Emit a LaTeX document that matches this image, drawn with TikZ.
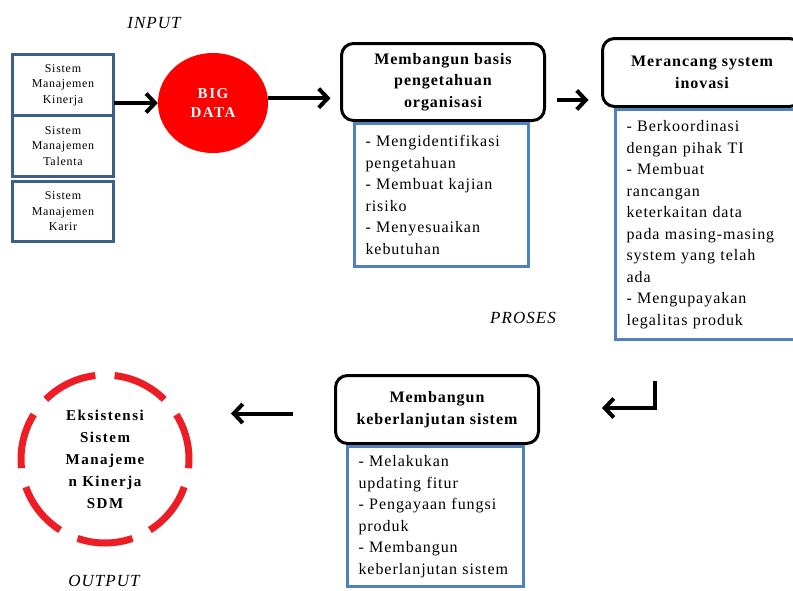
\documentclass[tikz,border=0pt]{standalone}
\usepackage{fontspec}
\setmainfont{Liberation Serif}[LetterSpace=6]
\newfontfamily\renggang{Liberation Serif}[LetterSpace=10]
\usepackage{tikz}
\usetikzlibrary{positioning}
\usetikzlibrary{arrows.meta,shapes.geometric}

\definecolor{inblue}{HTML}{3E5F8E}
\definecolor{boxblue}{HTML}{4F81BD}
\definecolor{bigred}{HTML}{FF0000}
\definecolor{dashred}{HTML}{EE1C24}

\tikzset{
  inbox/.style={draw=inblue, line width=3pt, outer sep=0pt, minimum width=101pt,
    minimum height=61pt, inner sep=1pt, align=center,
    font=\fontsize{12}{15.5}\selectfont},
  judul/.style={draw, line width=3pt, rounded corners=12pt, outer sep=0pt,
    align=center, font=\fontsize{16}{21.5}\selectfont\bfseries},
  rinci/.style={draw=boxblue, line width=3pt, outer sep=0pt, inner xsep=11pt,
    align=left, font=\fontsize{16}{21.5}\selectfont},
  bigdata/.style={ellipse, fill=bigred, minimum width=110pt, minimum height=100pt,
    align=center, text=white, font=\renggang\fontsize{15}{19}\selectfont\bfseries},
  tujuan/.style={circle, minimum size=168pt, inner sep=0pt, outer sep=0pt, align=center,
    font=\renggang\fontsize{15}{22}\selectfont\bfseries},
  putus/.style={draw=dashred, line width=7pt},
  tahap/.style={font=\fontsize{17}{19}\selectfont\itshape},
  panah/.style={line width=4pt, line join=miter, -{Straight Barb[length=9pt,width=19pt]}}
}

\begin{document}
\begin{tikzpicture}[x=1pt,y=-1pt]
\useasboundingbox (0,0) rectangle (793,590);
\clip (0,0) rectangle (793,590);

\node[tahap] (input) at (154,23) {INPUT};
\node[inbox] (kinerja) at (63,85) {Sistem\\Manajemen\\Kinerja};
\node[inbox, below=0pt of kinerja] (talenta) {Sistem\\Manajemen\\Talenta};
\node[inbox, below=5pt of talenta, minimum height=60pt] (karir) {Sistem\\Manajemen\\Karir};
\node[bigdata] (bigdata) at (213,103) {BIG\\DATA};

\node[judul, minimum width=203pt, minimum height=77pt] (basis) at (443,82)
  {Membangun basis\\pengetahuan\\organisasi};
\node[rinci, below=3pt of basis.south west, anchor=north west, xshift=13pt,
  minimum width=174pt, minimum height=143pt, text width=152pt] (basisrinci)
  {- Mengidentifikasi\\pengetahuan\\- Membuat kajian\\risiko\\- Menyesuaikan\\kebutuhan};

\node[judul, minimum width=199pt, minimum height=68pt] (inovasi) at (702,72.5)
  {Merancang system\\inovasi};
\node[rinci, below=3pt of inovasi.south west, anchor=north west, xshift=13pt,
  minimum width=185pt, minimum height=230pt, text width=163pt] (inovasirinci)
  {- Berkoordinasi\\dengan pihak TI\\- Membuat\\rancangan\\keterkaitan data\\pada masing-masing\\system yang telah\\ada\\- Mengupayakan\\legalitas produk};

\node[tahap] (proses) at (523,318) {PROSES};

\node[judul, minimum width=203pt, minimum height=68pt] (lanjut) at (437,409.5)
  {Membangun\\keberlanjutan sistem};
\node[rinci, below=3pt of lanjut.south west, anchor=north west, xshift=12pt,
  minimum width=176pt, minimum height=140pt, text width=154pt] (lanjutrinci)
  {- Melakukan\\updating fitur\\- Pengayaan fungsi\\produk\\- Membangun\\keberlanjutan sistem};

\node[tujuan] (eksistensi) at (105,459) {Eksistensi\\Sistem\\Manajeme\\n Kinerja\\SDM};
\foreach \mulai in {45.2,96.6,148.0,199.5,250.9,302.3,353.7}
  \draw[putus] ([shift={(\mulai:84pt)}]eksistensi.center)
    arc[start angle=\mulai, delta angle=38.2, radius=84pt];
\node[tahap] (output) at (104,581) {OUTPUT};

\coordinate (belokatas) at (655,381);
\coordinate (belokujung) at (602,408);

\draw[panah] (kinerja.east |- bigdata.west) -- (bigdata.west);
\draw[panah, shorten >=11pt] (bigdata.5) -- (bigdata.5 -| basis.west);
\draw[panah, shorten <=12pt, shorten >=14pt] ([yshift=-18pt]basis.east)
  -- ([yshift=-18pt]basis.east -| inovasi.west);
\draw[panah] (belokatas) |- (belokujung);
\draw[panah, shorten <=43pt, shorten >=42pt] ([yshift=-4pt]lanjut.west)
  -- ([yshift=-4pt]lanjut.west -| eksistensi.east);
\end{tikzpicture}
\end{document}
